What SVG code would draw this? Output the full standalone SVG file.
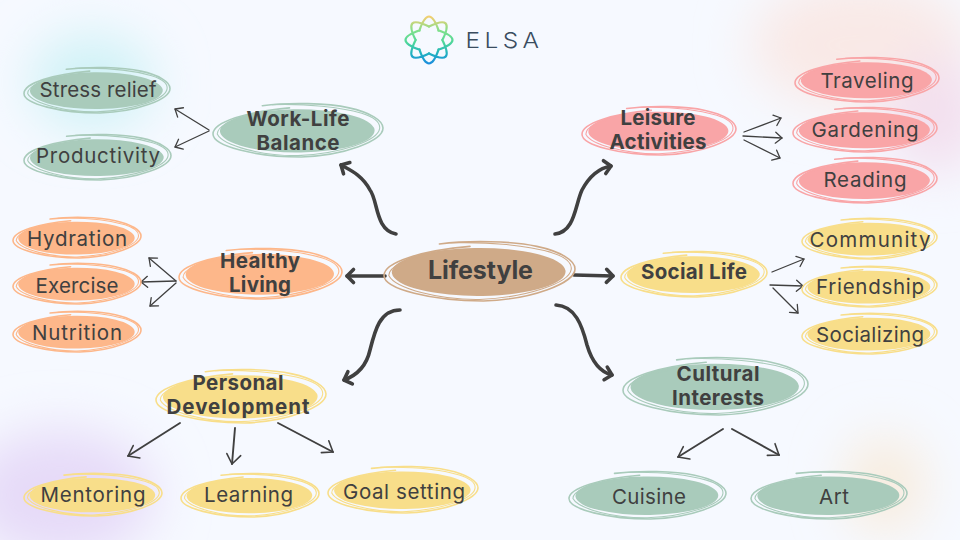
<svg xmlns="http://www.w3.org/2000/svg" xmlns:xlink="http://www.w3.org/1999/xlink" width="960" height="540" viewBox="0 0 960 540">
<style>
text{font-family:"Inter","Open Sans","Liberation Sans",sans-serif;fill:#404040;text-anchor:middle}
.r{font-size:20.5px;font-weight:400}
.b{font-size:20.5px;font-weight:700}
.g{color:#a9cbbb}.o{color:#fdb78a}.p{color:#f9a5a7}.y{color:#f8de8a}.t{color:#cfaa88}
.sf{fill:currentColor}
.s1{fill:none;stroke:currentColor;stroke-width:1.6;vector-effect:non-scaling-stroke;stroke-linecap:round}
.s2{fill:none;stroke:currentColor;stroke-width:1.1;vector-effect:non-scaling-stroke;stroke-linecap:round}
.thick{fill:none;stroke:#404040;stroke-width:3.6;stroke-linecap:round;marker-end:url(#big)}
.thin{fill:none;stroke:#404040;stroke-width:1.3;stroke-linecap:round;marker-end:url(#small)}
.mid{fill:none;stroke:#404040;stroke-width:1.9;stroke-linecap:round;marker-end:url(#small2)}
</style>
<defs>
<filter id="bl" x="-60%" y="-60%" width="220%" height="220%"><feGaussianBlur stdDeviation="26"/></filter>
<linearGradient id="lg" gradientUnits="userSpaceOnUse" x1="429" y1="17" x2="429" y2="63">
<stop offset="0" stop-color="#f1cf72"/><stop offset=".3" stop-color="#7fe08c"/><stop offset=".55" stop-color="#4fd79a"/><stop offset=".78" stop-color="#22b3bf"/><stop offset="1" stop-color="#1b8fdc"/>
</linearGradient>
<marker id="big" markerUnits="userSpaceOnUse" markerWidth="20" markerHeight="20" refX="10" refY="10" orient="auto" overflow="visible"><path d="M3.5 3.5L10 10L3.5 16.5" fill="none" stroke="#404040" stroke-width="3.6" stroke-linecap="round" stroke-linejoin="round"/></marker>
<marker id="small" markerUnits="userSpaceOnUse" markerWidth="20" markerHeight="20" refX="10" refY="10" orient="auto" overflow="visible"><path d="M3.5 4.5L10 10L3.5 15.5" fill="none" stroke="#404040" stroke-width="1.3" stroke-linecap="round" stroke-linejoin="round"/></marker>
<marker id="small2" markerUnits="userSpaceOnUse" markerWidth="24" markerHeight="24" refX="12" refY="12" orient="auto" overflow="visible"><path d="M3 4L12 12L2 18" fill="none" stroke="#404040" stroke-width="1.6" stroke-linecap="round" stroke-linejoin="round"/></marker>
<g id="sc">
<ellipse class="sf" cx="-0.01" cy="0.03" rx="0.91" ry="0.8" transform="rotate(-3)"/>
<path class="s1" d="M-.42-.9C-.1-1.03.35-1 .6-.82C.85-.65 1-.35 1-.07C1 .4.55.95.04 1C-.5 1-1 .6-1 .15C-1-.3-.6-.68-.1-.82"/>
<path class="s2" d="M-.3-.94C.1-.98.5-.85.75-.62C.92-.45.97-.25.96-.05C.94.4.5.88 0 .95C-.4.97-.88.6-.95.15C-.95-.2-.7-.45-.42-.6"/>
</g>
</defs>
<rect width="960" height="540" fill="#f6f9ff"/>
<g filter="url(#bl)">
<ellipse cx="92" cy="82" rx="62" ry="48" fill="#cff2f6"/>
<ellipse cx="860" cy="45" rx="110" ry="65" fill="#f9e9e6"/>
<ellipse cx="935" cy="115" rx="50" ry="60" fill="#f3dfee"/>
<ellipse cx="60" cy="495" rx="95" ry="65" fill="#e6daf8"/>
<ellipse cx="885" cy="485" rx="40" ry="48" fill="#f8ebdb"/>
</g>
<g id="logo">
<path fill="none" stroke="url(#lg)" stroke-width="2.2" d="M419 31.6Q429 1.4 439 31.6M427.9 27.1Q456.3 12.7 441.9 41.1M437.4 30Q467.6 40 437.4 50M441.9 38.9Q456.3 67.3 427.9 52.9M439 48.4Q429 78.6 419 48.4M430.1 52.9Q401.7 67.3 416.1 38.9M420.6 50Q390.4 40 420.6 30M416.1 41.1Q401.7 12.7 430.1 27.1"/>
<text x="504.5" y="48" textLength="78" lengthAdjust="spacingAndGlyphs" style="font-size:22px;font-weight:300;letter-spacing:4px;fill:#3a4d5f">ELSA</text>
</g>
<g id="connectors">
<path class="thick" d="M396 234C375 230 378 200 370 190C362 175 350 170 341 165"/>
<path class="thick" d="M555 234C575 232 575 205 582 190C590 175 600 168 611 166"/>
<path class="thick" d="M385 276L347 276"/>
<path class="thick" d="M574 275L613 276"/>
<path class="thick" d="M400 310C380 310 375 330 370 350C366 368 355 376 344 380"/>
<path class="thick" d="M556 305C575 306 582 325 587 345C592 362 600 372 612 375"/>
<path class="thin" d="M209 130L175 109"/><path class="thin" d="M209 131L175 147"/>
<path class="thin" d="M176 281L149 258"/><path class="thin" d="M176 281L141 282"/><path class="thin" d="M176 283L150 306"/>
<path class="thin" d="M744 132L781 118"/><path class="thin" d="M743 136L782 138"/><path class="thin" d="M744 140L780 158"/>
<path class="thin" d="M772 272L804 259"/><path class="thin" d="M770 285L803 286"/><path class="thin" d="M773 288L798 313"/>
<path class="mid" d="M180 423L128 456"/><path class="mid" d="M235 428L232 464"/><path class="mid" d="M278 423L333 452"/>
<path class="mid" d="M723 429L678 457"/><path class="mid" d="M732 429L779 455"/>
</g>
<g id="n-lifestyle" class="t"><use href="#sc" transform="translate(479.5 271) scale(95.5 30)"/><text x="480.5" y="279" textLength="105" style="font-size:25px;font-weight:700">Lifestyle</text></g>
<g id="n-worklife" class="g"><use href="#sc" transform="translate(298 130) scale(85 27)"/><text class="b" x="298" y="126" textLength="103">Work-Life</text><text class="b" x="298" y="150" textLength="83">Balance</text></g>
<g id="n-stress" class="g"><use href="#sc" transform="translate(97 90) scale(73 23)"/><text class="r" x="98" y="97" textLength="117">Stress relief</text></g>
<g id="n-productivity" class="g"><use href="#sc" transform="translate(97.5 157) scale(73.5 23)"/><text class="r" x="98" y="163" textLength="124">Productivity</text></g>
<g id="n-healthy" class="o"><use href="#sc" transform="translate(260.5 273.5) scale(81.5 25.5)"/><text class="b" x="260" y="268" textLength="80">Healthy</text><text class="b" x="260" y="292" textLength="62">Living</text></g>
<g id="n-hydration" class="o"><use href="#sc" transform="translate(77 237.5) scale(64 20.5)"/><text class="r" x="77" y="246" textLength="100">Hydration</text></g>
<g id="n-exercise" class="o"><use href="#sc" transform="translate(77 283.5) scale(64 20.5)"/><text class="r" x="77" y="293" textLength="83">Exercise</text></g>
<g id="n-nutrition" class="o"><use href="#sc" transform="translate(77 331.5) scale(64 20.5)"/><text class="r" x="77" y="340" textLength="90">Nutrition</text></g>
<g id="n-leisure" class="p"><use href="#sc" transform="translate(659 130.5) scale(77 24.5)"/><text class="b" x="658" y="125" textLength="75">Leisure</text><text class="b" x="658" y="149" textLength="97">Activities</text></g>
<g id="n-traveling" class="p"><use href="#sc" transform="translate(867 79.5) scale(72 22.5)"/><text class="r" x="867" y="88" textLength="93">Traveling</text></g>
<g id="n-gardening" class="p"><use href="#sc" transform="translate(865 129.5) scale(72 22.5)"/><text class="r" x="865" y="137" textLength="107">Gardening</text></g>
<g id="n-reading" class="p"><use href="#sc" transform="translate(865 180) scale(72 23)"/><text class="r" x="865" y="187" textLength="83">Reading</text></g>
<g id="n-social" class="y"><use href="#sc" transform="translate(694 274) scale(73 23)"/><text class="b" x="694" y="279" textLength="106">Social Life</text></g>
<g id="n-community" class="y"><use href="#sc" transform="translate(869.5 238.5) scale(67.5 20.5)"/><text class="r" x="870" y="247" textLength="121">Community</text></g>
<g id="n-friendship" class="y"><use href="#sc" transform="translate(869.5 286.5) scale(67.5 20.5)"/><text class="r" x="870" y="294" textLength="108">Friendship</text></g>
<g id="n-socializing" class="y"><use href="#sc" transform="translate(869.5 333.5) scale(67.5 20.5)"/><text class="r" x="870" y="342" textLength="108">Socializing</text></g>
<g id="n-personal" class="y"><use href="#sc" transform="translate(241 396) scale(85 27)"/><text class="b" x="238" y="390" textLength="91">Personal</text><text class="b" x="238" y="414" textLength="143">Development</text></g>
<g id="n-mentoring" class="y"><use href="#sc" transform="translate(93 494.5) scale(69 21.5)"/><text class="r" x="93" y="502" textLength="105">Mentoring</text></g>
<g id="n-learning" class="y"><use href="#sc" transform="translate(250 495) scale(69 22)"/><text class="r" x="248.500" y="502" textLength="89">Learning</text></g>
<g id="n-goal" class="y"><use href="#sc" transform="translate(403 489.5) scale(75 23.5)"/><text class="r" x="404" y="499" textLength="122">Goal setting</text></g>
<g id="n-cultural" class="g"><use href="#sc" transform="translate(715.5 386) scale(92.5 29)"/><text class="b" x="718" y="381" textLength="83">Cultural</text><text class="b" x="718" y="405" textLength="92">Interests</text></g>
<g id="n-cuisine" class="g"><use href="#sc" transform="translate(647.5 495) scale(78.5 24)"/><text class="r" x="649" y="504" textLength="74">Cuisine</text></g>
<g id="n-art" class="g"><use href="#sc" transform="translate(829 495) scale(78 24)"/><text class="r" x="834" y="504" textLength="30">Art</text></g>
</svg>
